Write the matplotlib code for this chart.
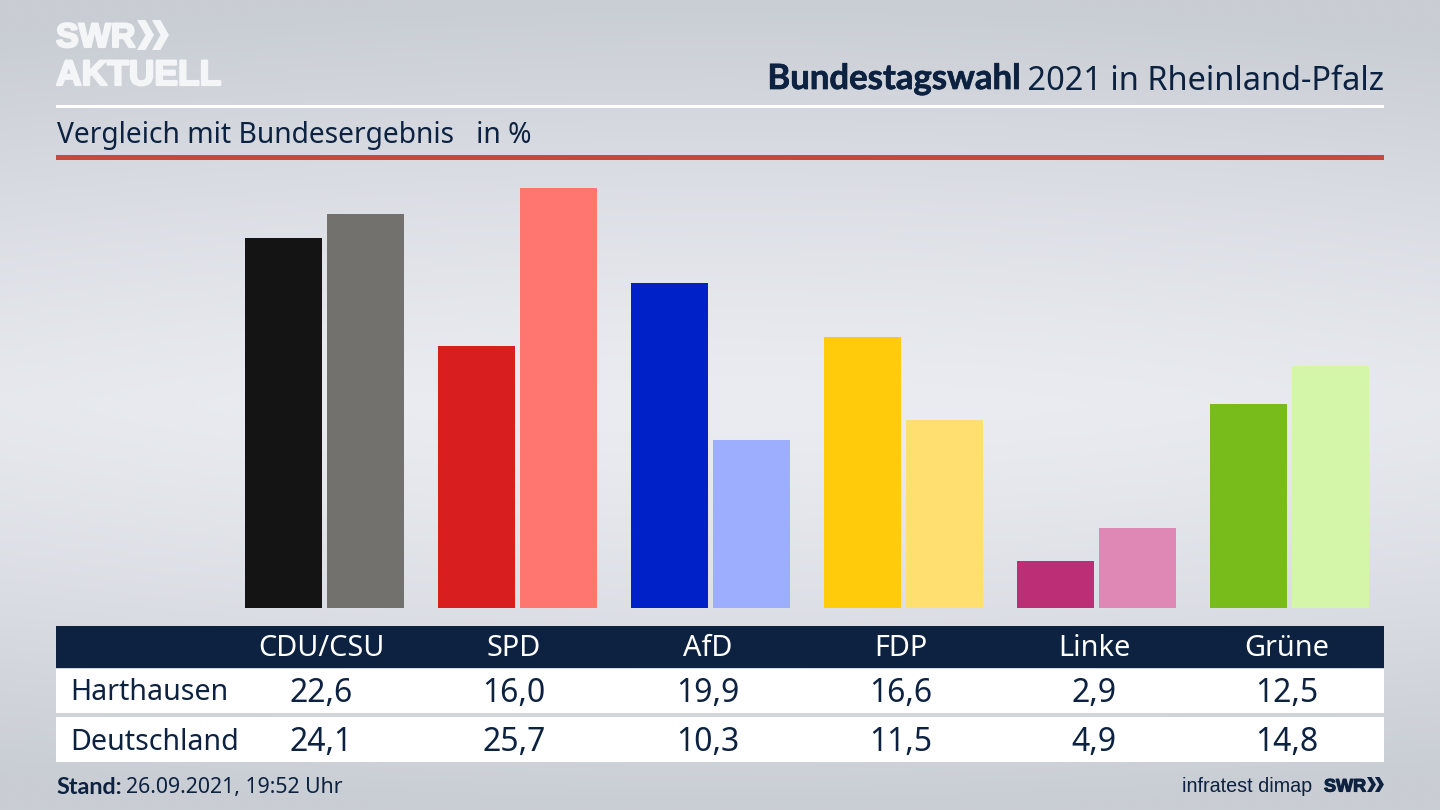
# -*- coding:utf-8 -*-
import numpy as np
import matplotlib
matplotlib.use('Agg')
import matplotlib.pyplot as plt
import matplotlib.patheffects as pe
from matplotlib.patches import Rectangle, Polygon

parties = ['CDU/CSU', 'SPD', 'AfD', 'FDP', 'Linke', 'Grüne']
harthausen = [22.6, 16.0, 19.9, 16.6, 2.9, 12.5]
deutschland = [24.1, 25.7, 10.3, 11.5, 4.9, 14.8]
colors_local = ['#141414', '#d81e1e', '#0020c8', '#ffcb0a', '#bc2e76', '#78bc1c']
colors_bund = ['#72716e', '#ff7570', '#9dadff', '#ffdf70', '#df88b6', '#d3f6a8']
row_labels = ['Harthausen', 'Deutschland']

NAVY = '#0c2240'
LOGO = '#f4f5f7'
LOGO_FONT = ['Liberation Sans', 'DejaVu Sans']
BOLD_FONT = ['Lato', 'DejaVu Sans']
plt.rcParams['font.family'] = ['Noto Sans', 'DejaVu Sans']
SPACING = 193.1
PX_PER_PCT = 16.35


def fmt(v):
    return f'{v:.1f}'.replace('.', ',')


# SWR-Doppelpfeil
def chevrons(axis, x0, y0, w, h, color):
    t = w * 0.5
    for dx in (0, w * 0.88):
        axis.add_patch(Polygon([(x0 + dx, y0), (x0 + dx + t, y0),
                                (x0 + dx + w, y0 + h / 2),
                                (x0 + dx + t, y0 + h), (x0 + dx, y0 + h),
                                (x0 + dx + w - t, y0 + h / 2)],
                               closed=True, color=color, lw=0, zorder=2))


fig = plt.figure(figsize=(14.4, 8.1), dpi=100)

# Hintergrund + Pixel-Koordinaten fuer Kopf und Tabelle
bg = fig.add_axes([0, 0, 1, 1])
bg.set_xlim(0, 1440)
bg.set_ylim(810, 0)
bg.axis('off')
yy = np.abs(np.linspace(-1, 1, 270))
xx = np.abs(np.linspace(-1, 1, 480))
X, Y = np.meshgrid(xx, yy)
grad = 1 - np.clip(Y ** 1.3 + 0.12 * X ** 2, 0, 1)
c0 = np.array([0xc9, 0xcd, 0xd4]) / 255
c1 = np.array([0xea, 0xec, 0xf1]) / 255
img = c0 + (c1 - c0) * grad[..., None]
bg.imshow(img, extent=(0, 1440, 810, 0), aspect='auto', zorder=0)

# Kopf
bg.add_patch(Rectangle((56, 104.5), 1328, 3, color='white', lw=0, zorder=1))
bg.add_patch(Rectangle((56, 155), 1328, 5, color='#c64a3a', lw=0, zorder=1))
thick = [pe.withStroke(linewidth=1.6, foreground=LOGO)]
bg.text(56, 35, 'SWR', fontsize=24.5, fontweight='bold', color=LOGO,
        va='center_baseline', ha='left', family=LOGO_FONT, path_effects=thick)
chevrons(bg, 137, 20, 17, 30, LOGO)
bg.text(56, 72, 'AKTUELL', fontsize=25.5, fontweight='bold', color=LOGO,
        va='center_baseline', ha='left', family=LOGO_FONT, path_effects=thick)

t2 = bg.text(1384, 81, ' 2021 in Rheinland-Pfalz', fontsize=23.4, color=NAVY,
             va='center', ha='right')
fig.canvas.draw()
ext = t2.get_window_extent()
bg.text(ext.x0 + 2, 79, 'Bundestagswahl', fontsize=25, fontweight='bold',
        color=NAVY, va='center', ha='right', family=BOLD_FONT,
        path_effects=[pe.withStroke(linewidth=0.5, foreground=NAVY)])
bg.text(57, 135, 'Vergleich mit Bundesergebnis   in %', fontsize=20.3, color=NAVY,
        va='center', ha='left')

# Balken
ax = fig.add_axes([0, (810 - 608) / 810, 1, (608 - 165) / 810])
ax.patch.set_alpha(0)
ax.set_xlim(-324.5 / SPACING, (1440 - 324.5) / SPACING)
ax.set_ylim(0, (608 - 165) / PX_PER_PCT)
ax.axis('off')
x = np.arange(len(parties))
bw = 77 / SPACING
off = 41 / SPACING
ax.bar(x - off, harthausen, width=bw, color=colors_local)
ax.bar(x + off, deutschland, width=bw, color=colors_bund)

# Tabelle
bg.add_patch(Rectangle((56, 626), 1328, 42, color=NAVY, lw=0, zorder=1))
bg.add_patch(Rectangle((56, 669), 1328, 44, color='white', lw=0, zorder=1))
bg.add_patch(Rectangle((56, 717), 1328, 45, color='white', lw=0, zorder=1))
centers = [321, 514, 708, 901, 1094, 1287]
for cx, name, a, b in zip(centers, parties, harthausen, deutschland):
    bg.text(cx, 649, name, fontsize=20.8, color='white', ha='center', va='center')
    bg.text(cx, 694, fmt(a), fontsize=23, color=NAVY, ha='center', va='center')
    bg.text(cx, 742.5, fmt(b), fontsize=23, color=NAVY, ha='center', va='center')
bg.text(70, 693, row_labels[0], fontsize=20.6, color=NAVY, ha='left', va='center')
bg.text(70, 742, row_labels[1], fontsize=20.6, color=NAVY, ha='left', va='center')

# Fuss
bg.text(56, 788, 'Stand:', fontsize=16.8, fontweight='bold', color=NAVY,
        ha='left', va='center', family=BOLD_FONT)
bg.text(126, 787, '26.09.2021, 19:52 Uhr', fontsize=15.3, color=NAVY,
        ha='left', va='center')
bg.text(1312, 786, 'infratest dimap', fontsize=14.2, color=NAVY,
        ha='right', va='center', family=LOGO_FONT)
bg.text(1324, 785, 'SWR', fontsize=13, fontweight='bold', color=NAVY,
        ha='left', va='center_baseline', family=LOGO_FONT,
        path_effects=[pe.withStroke(linewidth=0.8, foreground=NAVY)])
chevrons(bg, 1367, 777, 9, 15, NAVY)

fig.savefig('out.png', dpi=100)
